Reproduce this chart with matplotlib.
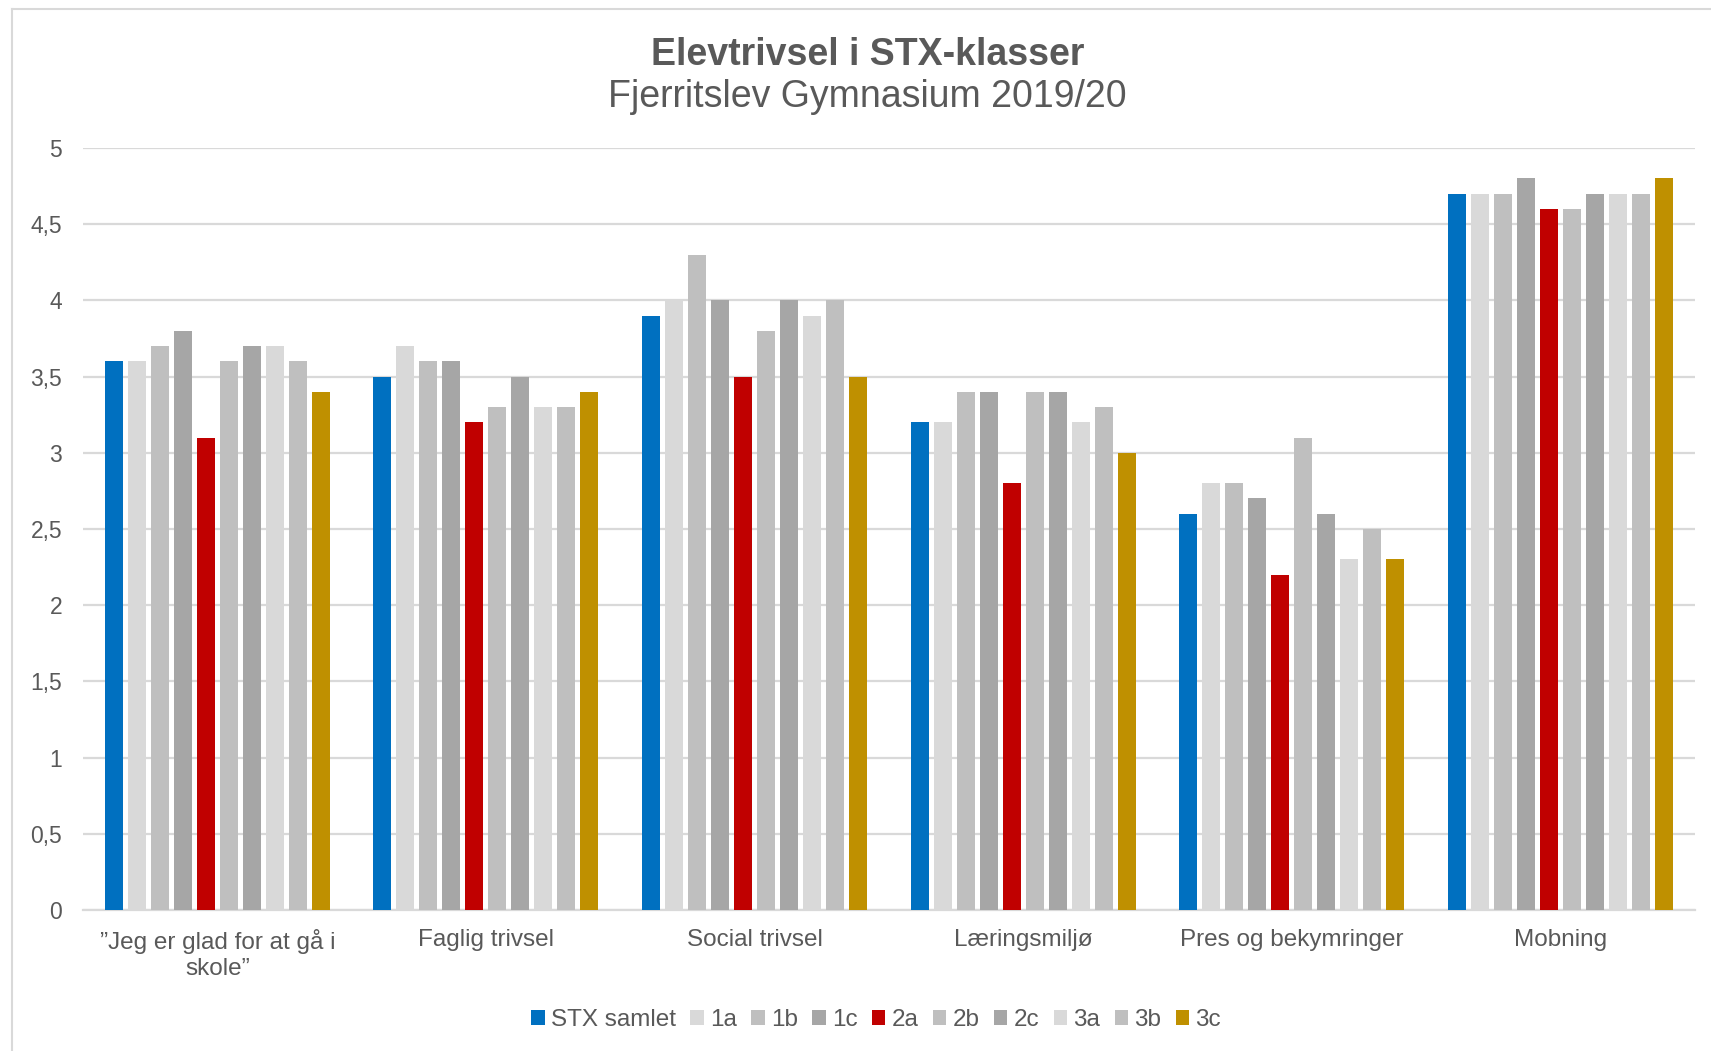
import numpy as np
import matplotlib.pyplot as plt
from matplotlib.lines import Line2D

plt.rcParams['font.family'] = ['Liberation Sans', 'DejaVu Sans']

# Data
categories = ['\u201dJeg er glad for at gå i\nskole\u201d', 'Faglig trivsel', 'Social trivsel',
              'Læringsmiljø', 'Pres og bekymringer', 'Mobning']
series_names = ['STX samlet', '1a', '1b', '1c', '2a', '2b', '2c', '3a', '3b', '3c']
stx_samlet = [3.6, 3.5, 3.9, 3.2, 2.6, 4.7]
k1a = [3.6, 3.7, 4.0, 3.2, 2.8, 4.7]
k1b = [3.7, 3.6, 4.3, 3.4, 2.8, 4.7]
k1c = [3.8, 3.6, 4.0, 3.4, 2.7, 4.8]
k2a = [3.1, 3.2, 3.5, 2.8, 2.2, 4.6]
k2b = [3.6, 3.3, 3.8, 3.4, 3.1, 4.6]
k2c = [3.7, 3.5, 4.0, 3.4, 2.6, 4.7]
k3a = [3.7, 3.3, 3.9, 3.2, 2.3, 4.7]
k3b = [3.6, 3.3, 4.0, 3.3, 2.5, 4.7]
k3c = [3.4, 3.4, 3.5, 3.0, 2.3, 4.8]
series_values = [stx_samlet, k1a, k1b, k1c, k2a, k2b, k2c, k3a, k3b, k3c]
y_ticks = [0, 0.5, 1, 1.5, 2, 2.5, 3, 3.5, 4, 4.5, 5]
y_ticklabels = ['0', '0,5', '1', '1,5', '2', '2,5', '3', '3,5', '4', '4,5', '5']

colors = ['#0070C0', '#D9D9D9', '#BFBFBF', '#A6A6A6', '#C00000',
          '#BFBFBF', '#A6A6A6', '#D9D9D9', '#BFBFBF', '#BF9000']
text_col = '#595959'
grid_col = '#D9D9D9'

fig = plt.figure(figsize=(17.11, 10.51), dpi=100)
ax = fig.add_axes([0.0485, 0.1342, 0.9421, 0.725])

x = np.arange(len(categories)) + 0.5
step = 0.0856
width = 0.067
n = len(series_names)
for i, (name, vals, c) in enumerate(zip(series_names, series_values, colors)):
    ax.bar(x + (i - (n - 1) / 2) * step, vals, width=width, color=c, label=name, zorder=3)

ax.set_xlim(0, len(categories))
ax.set_ylim(0, 5)
ax.set_yticks(y_ticks)
ax.set_yticklabels(y_ticklabels)
ax.set_xticks(x)
ax.set_xticklabels(categories)
ax.tick_params(axis='y', length=0, pad=15, labelsize=16.5, labelcolor=text_col)
ax.tick_params(axis='x', length=0, pad=14, labelsize=17.5, labelcolor=text_col)
ax.yaxis.grid(True, color=grid_col, linewidth=1.6, zorder=0)
ax.set_axisbelow(True)
for s in ['top', 'right', 'left']:
    ax.spines[s].set_visible(False)
ax.spines['bottom'].set_color(grid_col)
ax.spines['bottom'].set_linewidth(1.6)

# titles
fig.text(0.507, 1 - 55 / 1051, 'Elevtrivsel i STX-klasser', ha='center', va='center',
         fontsize=27, fontweight='bold', color=text_col)
fig.text(0.507, 1 - 97 / 1051, 'Fjerritslev Gymnasium 2019/20', ha='center', va='center',
         fontsize=27, color=text_col)

# legend
leg = fig.legend(loc='center', bbox_to_anchor=(0.512, 1 - 1020 / 1051), ncol=n, frameon=False,
                 fontsize=17.5, handlelength=0.55, handleheight=0.55, handletextpad=0.25,
                 columnspacing=0.6)
for t in leg.get_texts():
    t.set_color(text_col)

# chart border (cropped on right and bottom)
fig.add_artist(Line2D([12 / 1711, 12 / 1711], [0, 1 - 9 / 1051], transform=fig.transFigure,
                      color=grid_col, linewidth=1.5))
fig.add_artist(Line2D([12 / 1711, 1], [1 - 9 / 1051, 1 - 9 / 1051], transform=fig.transFigure,
                      color=grid_col, linewidth=1.5))

fig.savefig('out.png', dpi=100, facecolor='white')
